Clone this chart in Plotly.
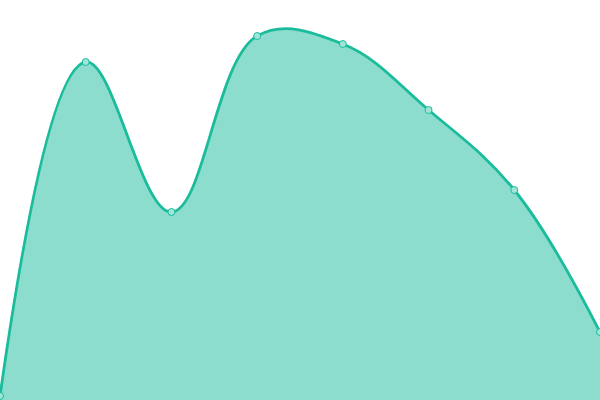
import plotly.graph_objects as go

x_idx = [0, 1, 2, 3, 4, 5, 6, 7]
values = [4, 338, 188, 364, 356, 290, 210, 68]

fig = go.Figure()
fig.add_trace(go.Scatter(
    x=x_idx,
    y=values,
    mode="lines+markers",
    line=dict(color="#1abc9c", width=2.8, shape="spline", smoothing=1.1),
    fill="tozeroy",
    fillcolor="rgba(26,188,156,0.5)",
    marker=dict(size=7, color="#9fe6d8", line=dict(color="#1abc9c", width=1)),
    cliponaxis=False,
    hoverinfo="skip",
))

fig.update_layout(
    width=600, height=400,
    margin=dict(l=0, r=0, t=0, b=0),
    paper_bgcolor="white",
    plot_bgcolor="white",
    showlegend=False,
    xaxis=dict(range=[0, 7], visible=False, fixedrange=True),
    yaxis=dict(range=[0, 400], visible=False, fixedrange=True),
)

# drop the page's default body margin so the plot sits flush with the window
fig.write_html(
    "out.html",
    config={"displayModeBar": False},
    post_script="document.body.style.margin='0';document.body.style.overflow='hidden';",
)
